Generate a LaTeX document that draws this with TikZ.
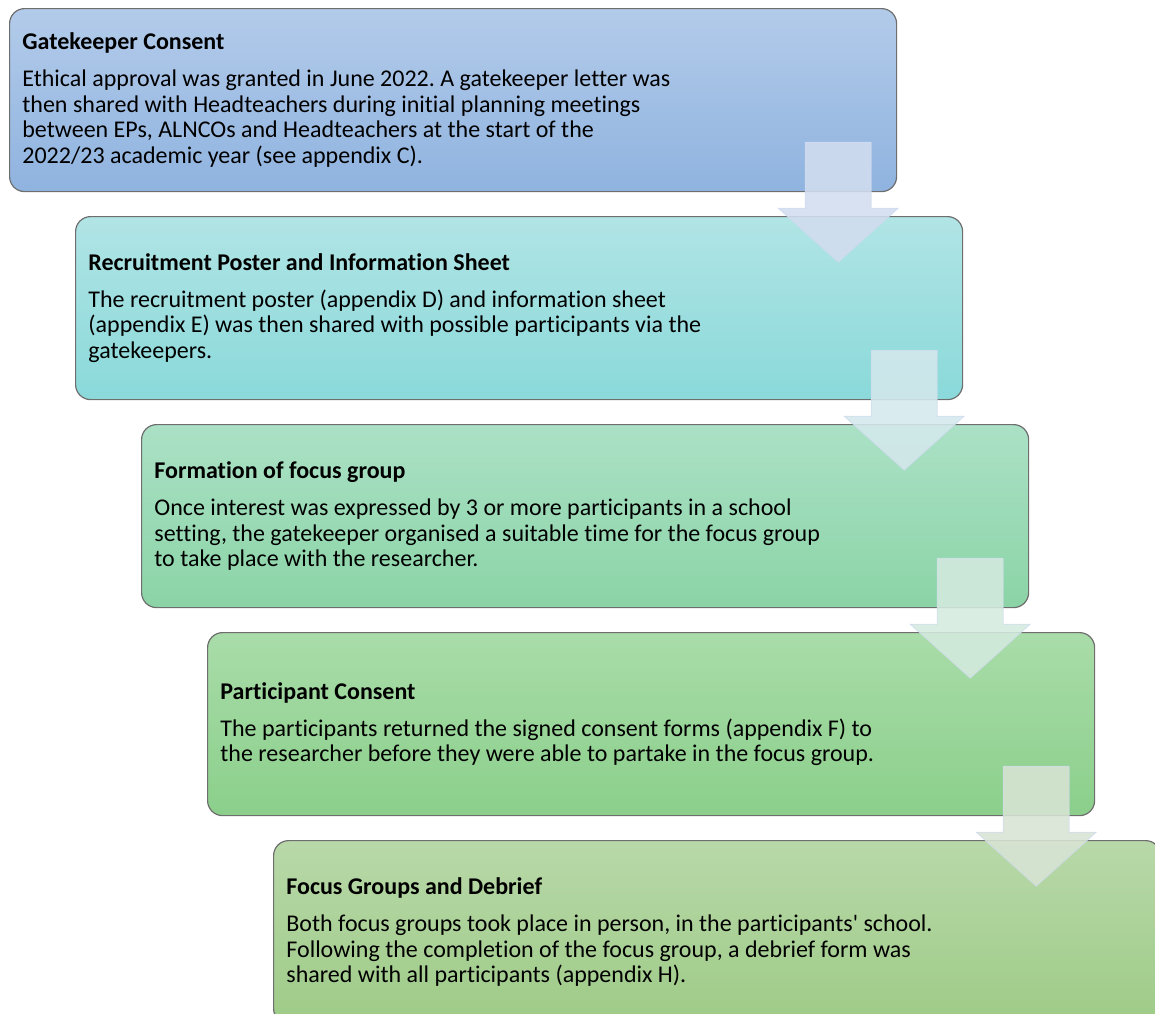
\documentclass[tikz,border=0pt]{standalone}
\usepackage{fontspec}
\setmainfont{Carlito}[Ligatures={NoCommon}]
\usetikzlibrary{calc}
\frenchspacing

% stage fills (top / bottom of the vertical gradient)
\definecolor{stAtop}{HTML}{B3CBEA}\definecolor{stAbot}{HTML}{8FB3DF}
\definecolor{stBtop}{HTML}{B1E4E5}\definecolor{stBbot}{HTML}{8AD9DA}
\definecolor{stCtop}{HTML}{ABE1C6}\definecolor{stCbot}{HTML}{8BD4A6}
\definecolor{stDtop}{HTML}{A9DCA9}\definecolor{stDbot}{HTML}{8BCF8B}
\definecolor{stEtop}{HTML}{B8D8A9}\definecolor{stEbot}{HTML}{9ECB87}
\definecolor{boxedge}{HTML}{6E6E6E}
% translucent down arrows
\definecolor{flowA}{HTML}{D2DDEF}
\definecolor{flowB}{HTML}{D4E8EC}
\definecolor{flowC}{HTML}{D4EADF}
\definecolor{flowD}{HTML}{D8E4D4}
\definecolor{flowedge}{HTML}{CFDAEF}

\tikzset{
  stage/.style={draw=boxedge, line width=0.6pt, rounded corners=7.5pt,
    minimum width=443.5pt, minimum height=91.5pt, inner sep=0pt,
    anchor=north west},
  stagetext/.style={anchor=west, align=left, inner sep=0pt,
    font=\fontsize{12}{12.8}\selectfont},
  flow/.style={fill opacity=0.88, draw=flowedge, draw opacity=0.8,
    line width=0.4pt},
  downarrow/.pic={
    \path[flow, pic actions] (-33,0) -- (33,0) -- (33,66) -- (60,66)
      -- (0,120) -- (-60,66) -- (-33,66) -- cycle;
  }
}

\begin{document}
\begin{tikzpicture}[x=0.5pt,y=-0.5pt]
\useasboundingbox (0,0) rectangle (1155,1013);
\clip (0,0) rectangle (1155,1013);

% stages
\node[stage, top color=stAtop, bottom color=stAbot] (b1) at (9,8) {};
\node[stage, top color=stBtop, bottom color=stBbot] (b2) at (75,216) {};
\node[stage, top color=stCtop, bottom color=stCbot] (b3) at (141,424) {};
\node[stage, top color=stDtop, bottom color=stDbot] (b4) at (207,632) {};
\node[stage, top color=stEtop, bottom color=stEbot] (b5) at (273,840) {};

% stage texts
\node[stagetext] (t1) at ($(b1.west)+(13,0)$) {%
  \textbf{Gatekeeper Consent}\\[5.7pt]
  Ethical approval was granted in June 2022. A gatekeeper letter was\\
  then shared with Headteachers during initial planning meetings\\
  between EPs, ALNCOs and Headteachers at the start of the\\
  2022/23 academic year (see appendix C).};
\node[stagetext] (t2) at ($(b2.west)+(13,0)$) {%
  \textbf{Recruitment Poster and Information Sheet}\\[5.7pt]
  The recruitment poster (appendix D) and information sheet\\
  (appendix E) was then shared with possible participants via the\\
  gatekeepers.};
\node[stagetext] (t3) at ($(b3.west)+(13,0)$) {%
  \textbf{Formation of focus group}\\[5.7pt]
  Once interest was expressed by 3 or more participants in a school\\
  setting, the gatekeeper organised a suitable time for the focus group\\
  to take place with the researcher.};
\node[stagetext] (t4) at ($(b4.west)+(13,0)$) {%
  \textbf{Participant Consent}\\[5.7pt]
  The participants returned the signed consent forms (appendix F) to\\
  the researcher before they were able to partake in the focus group.};
\node[stagetext] (t5) at ($(b5.west)+(13,0)$) {%
  \textbf{Focus Groups and Debrief}\\[5.7pt]
  Both focus groups took place in person, in the participants\textquotesingle{} school.\\
  Following the completion of the focus group, a debrief form was\\
  shared with all participants (appendix H).};

% arrows linking the stages
\coordinate (a1) at ($(b1.south east)+(-59,-50)$);
\coordinate (a2) at ($(b2.south east)+(-59,-50)$);
\coordinate (a3) at ($(b3.south east)+(-59,-50)$);
\coordinate (a4) at ($(b4.south east)+(-59,-50)$);
\pic[fill=flowA] at (a1) {downarrow};
\pic[fill=flowB] at (a2) {downarrow};
\pic[fill=flowC] at (a3) {downarrow};
\pic[fill=flowD] at (a4) {downarrow};
\end{tikzpicture}
\end{document}
